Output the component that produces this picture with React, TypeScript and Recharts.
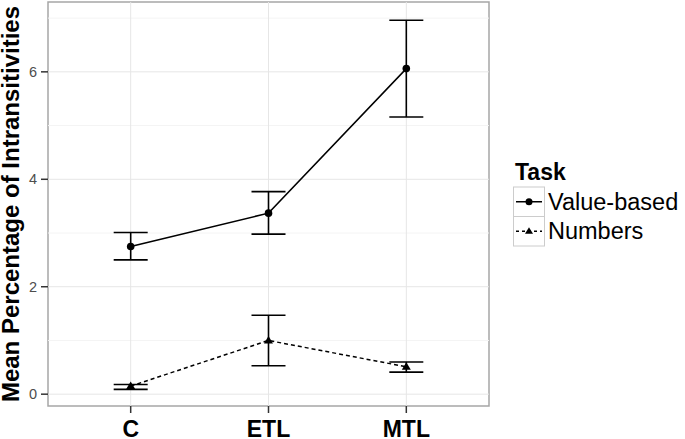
import { ComposedChart, Line, XAxis, YAxis, ErrorBar, ReferenceLine, ReferenceArea } from "recharts";

const categories = ["C", "ETL", "MTL"];
const valueBasedMean = [2.75, 3.37, 6.06];
const valueBasedLow = [2.5, 2.98, 5.16];
const valueBasedHigh = [3.01, 3.77, 6.96];
const numbersMean = [0.15, 1.0, 0.51];
const numbersLow = [0.09, 0.53, 0.41];
const numbersHigh = [0.18, 1.47, 0.6];
const seriesNames = ["Value-based", "Numbers"];
const majorTicks = [0, 2, 4, 6];
const minorTicks = [1, 3, 5, 7];

const FONT = "'Liberation Sans', Arial, Helvetica, sans-serif";

// x positions 1..n so the panel keeps ggplot's 0.6 padding on each side
const data = categories.map((cat, i) => ({
  x: i + 1,
  cat,
  vb: valueBasedMean[i],
  vbErr: [valueBasedMean[i] - valueBasedLow[i], valueBasedHigh[i] - valueBasedMean[i]],
  num: numbersMean[i],
  numErr: [numbersMean[i] - numbersLow[i], numbersHigh[i] - numbersMean[i]],
}));

const CircleDot = (props: any) => {
  const { cx, cy } = props;
  if (cx == null || cy == null) return null;
  return <circle cx={cx} cy={cy} r={3.8} fill="#000" />;
};

const TriangleDot = (props: any) => {
  const { cx, cy } = props;
  if (cx == null || cy == null) return null;
  return <path d={`M${cx},${cy - 4.5} L${cx + 4.5},${cy + 3} L${cx - 4.5},${cy + 3} Z`} fill="#000" />;
};

const XTick = (props: any) => {
  const { x, y, payload } = props;
  return (
    <text x={x} y={y + 22} textAnchor="middle" fontFamily={FONT} fontWeight="bold" fontSize={23} fill="#000">
      {categories[payload.value - 1]}
    </text>
  );
};

const YTick = (props: any) => {
  const { x, y, payload } = props;
  return (
    <text x={x} y={y + 5} textAnchor="end" fontFamily={FONT} fontSize={14.5} fill="#4d4d4d">
      {payload.value}
    </text>
  );
};

const YTitle = (props: any) => {
  const vb = props.viewBox || { y: 2, height: 404 };
  const cy = vb.y + vb.height / 2;
  return (
    <text
      x={18.5}
      y={cy}
      transform={`rotate(-90, 18.5, ${cy})`}
      textAnchor="middle"
      fontFamily={FONT}
      fontWeight="bold"
      fontSize={24}
      fill="#000"
    >
      Mean Percentage of Intransitivities
    </text>
  );
};

function LegendBox() {
  const top = 187;
  const h = 29.5;
  return (
    <svg width={685} height={439} style={{ position: "absolute", left: 0, top: 0, pointerEvents: "none" }}>
      <text x={515} y={180} fontFamily={FONT} fontWeight="bold" fontSize={23} fill="#000">
        Task
      </text>
      {seriesNames.map((name, i) => {
        const cy = top + h * i + h / 2;
        return (
          <g key={name}>
            <rect x={513.5} y={top + h * i} width={31} height={h} fill="#fff" stroke="#ccc" strokeWidth={1} />
            <line
              x1={516}
              x2={542}
              y1={cy}
              y2={cy}
              stroke="#000"
              strokeWidth={1.5}
              strokeDasharray={i === 1 ? "3 3" : undefined}
            />
            {i === 0 ? (
              <circle cx={529} cy={cy} r={3.5} fill="#000" />
            ) : (
              <path d={`M529,${cy - 4} L533,${cy + 2.5} L525,${cy + 2.5} Z`} fill="#000" />
            )}
            <text x={548} y={cy + 8} fontFamily={FONT} fontSize={23.5} fill="#000">
              {name}
            </text>
          </g>
        );
      })}
    </svg>
  );
}

export default function App() {
  return (
    <div style={{ position: "absolute", left: 0, top: 0, width: 685, height: 439, background: "#fff" }}>
      <ComposedChart width={685} height={439} data={data} margin={{ top: 2, right: 196, bottom: 0, left: 0 }}>
        <XAxis
          dataKey="x"
          type="number"
          domain={[0.4, 3.6]}
          ticks={[1, 2, 3]}
          height={33}
          tickSize={7}
          axisLine={false}
          tickLine={{ stroke: "#333", strokeWidth: 1.5 }}
          tick={<XTick />}
          allowDataOverflow
        />
        <YAxis
          type="number"
          domain={[-0.22, 7.3]}
          ticks={majorTicks}
          width={48}
          tickSize={7}
          tickMargin={4}
          axisLine={false}
          tickLine={{ stroke: "#333", strokeWidth: 1.5 }}
          tick={<YTick />}
          label={<YTitle />}
          allowDataOverflow
        />
        {minorTicks.map((v) => (
          <ReferenceLine key={`mi${v}`} y={v} stroke="#f4f4f4" strokeWidth={1} ifOverflow="hidden" />
        ))}
        {majorTicks.map((v) => (
          <ReferenceLine key={`ma${v}`} y={v} stroke="#e6e6e6" strokeWidth={1} />
        ))}
        {data.map((d) => (
          <ReferenceLine key={`vx${d.x}`} x={d.x} stroke="#e6e6e6" strokeWidth={1} />
        ))}
        <ReferenceArea x1={0.4} x2={3.6} y1={-0.22} y2={7.3} fill="none" stroke="#a6a6a6" strokeWidth={1.5} />
        <Line
          dataKey="vb"
          name={seriesNames[0]}
          stroke="#000"
          strokeWidth={1.5}
          dot={<CircleDot />}
          activeDot={false}
          isAnimationActive={false}
        >
          <ErrorBar dataKey="vbErr" direction="y" width={17} stroke="#000" strokeWidth={1.6} />
        </Line>
        <Line
          dataKey="num"
          name={seriesNames[1]}
          stroke="#000"
          strokeWidth={1.5}
          strokeDasharray="4 3"
          dot={<TriangleDot />}
          activeDot={false}
          isAnimationActive={false}
        >
          <ErrorBar dataKey="numErr" direction="y" width={17} stroke="#000" strokeWidth={1.6} />
        </Line>
      </ComposedChart>
      <LegendBox />
    </div>
  );
}
